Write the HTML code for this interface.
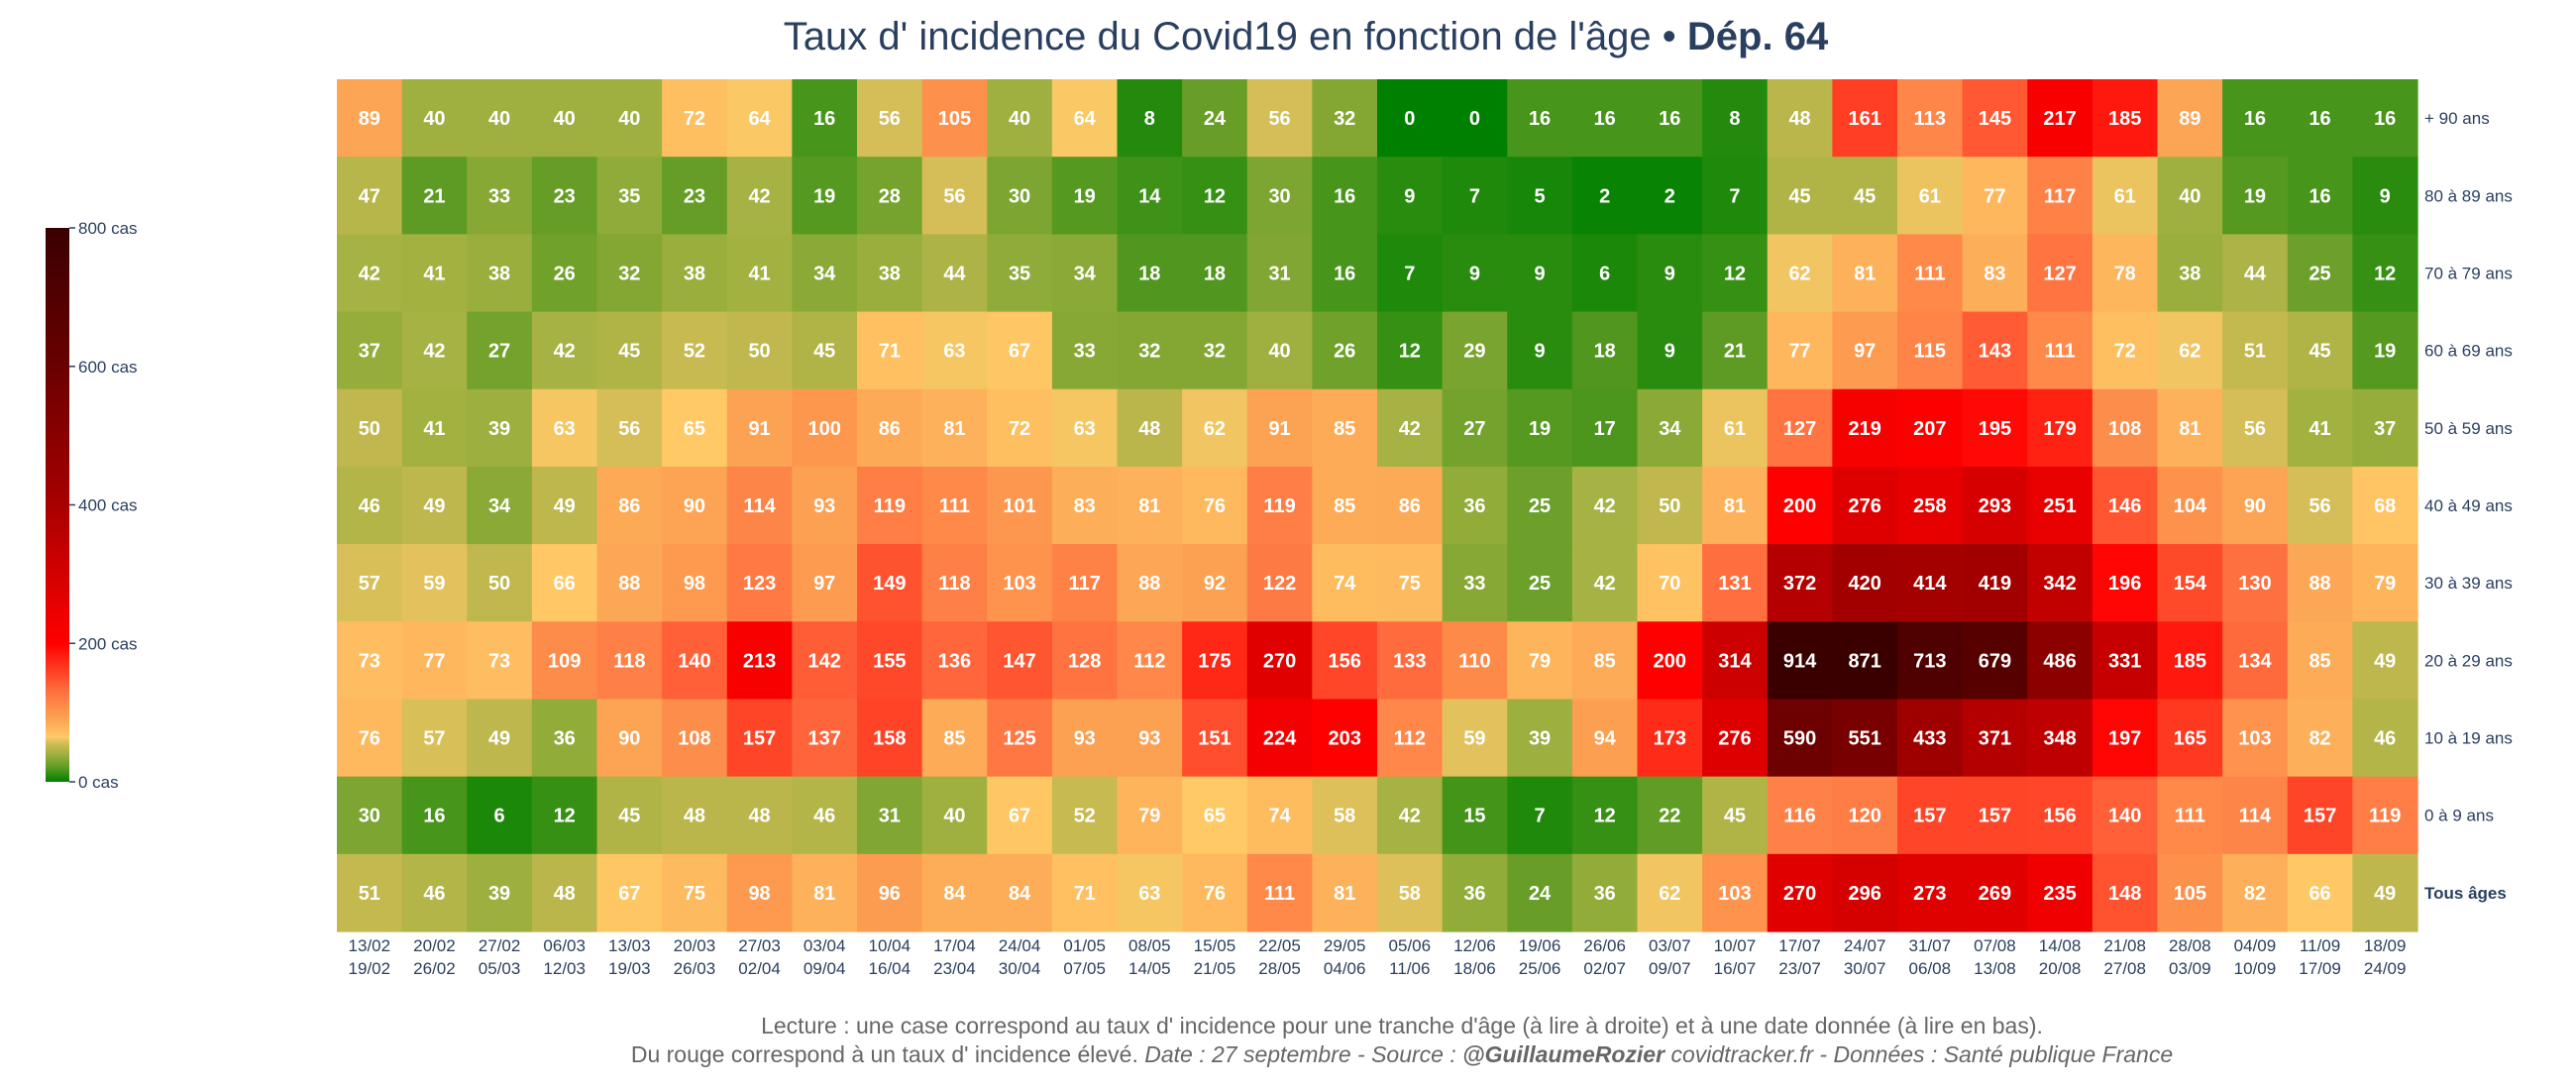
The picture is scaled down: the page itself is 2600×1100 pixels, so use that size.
<!DOCTYPE html>
<html><head><meta charset="utf-8"><style>
html,body{margin:0;padding:0;background:#fff;}
svg{display:block;font-family:"Liberation Sans","DejaVu Sans",sans-serif;}
</style></head><body>
<svg id="chart" width="2600" height="1100" viewBox="0 0 2600 1100" xmlns="http://www.w3.org/2000/svg">
<text x="1318" y="50" text-anchor="middle" font-size="40" fill="#2a3f5f">Taux d' incidence du Covid19 en fonction de l'âge • <tspan font-weight="bold">Dép. 64</tspan></text>
<g id="cells"></g>
<g id="rowlabels"></g>
<g id="collabels"></g>
<defs><linearGradient id="cbgrad" x1="0" y1="1" x2="0" y2="0"></linearGradient></defs>
<g id="colorbar"></g>
<text x="1415" y="1043" text-anchor="middle" font-size="23" fill="#666">Lecture : une case correspond au taux d' incidence pour une tranche d'âge (à lire à droite) et à une date donnée (à lire en bas).</text>
<text x="1415" y="1072" text-anchor="middle" font-size="23" fill="#666">Du rouge correspond à un taux d' incidence élevé.  <tspan font-style="italic">Date : 27 septembre - Source : <tspan font-weight="bold">@GuillaumeRozier</tspan> covidtracker.fr - Données : Santé publique France</tspan></text>
</svg>
<script>
const dateStarts = ["13/02","20/02","27/02","06/03","13/03","20/03","27/03","03/04","10/04","17/04","24/04","01/05","08/05","15/05","22/05","29/05","05/06","12/06","19/06","26/06","03/07","10/07","17/07","24/07","31/07","07/08","14/08","21/08","28/08","04/09","11/09","18/09"];
const dateEnds = ["19/02","26/02","05/03","12/03","19/03","26/03","02/04","09/04","16/04","23/04","30/04","07/05","14/05","21/05","28/05","04/06","11/06","18/06","25/06","02/07","09/07","16/07","23/07","30/07","06/08","13/08","20/08","27/08","03/09","10/09","17/09","24/09"];
const ageGroups = ["+ 90 ans","80 à 89 ans","70 à 79 ans","60 à 69 ans","50 à 59 ans","40 à 49 ans","30 à 39 ans","20 à 29 ans","10 à 19 ans","0 à 9 ans","Tous âges"];
const row90 = [89,40,40,40,40,72,64,16,56,105,40,64,8,24,56,32,0,0,16,16,16,8,48,161,113,145,217,185,89,16,16,16];
const row80 = [47,21,33,23,35,23,42,19,28,56,30,19,14,12,30,16,9,7,5,2,2,7,45,45,61,77,117,61,40,19,16,9];
const row70 = [42,41,38,26,32,38,41,34,38,44,35,34,18,18,31,16,7,9,9,6,9,12,62,81,111,83,127,78,38,44,25,12];
const row60 = [37,42,27,42,45,52,50,45,71,63,67,33,32,32,40,26,12,29,9,18,9,21,77,97,115,143,111,72,62,51,45,19];
const row50 = [50,41,39,63,56,65,91,100,86,81,72,63,48,62,91,85,42,27,19,17,34,61,127,219,207,195,179,108,81,56,41,37];
const row40 = [46,49,34,49,86,90,114,93,119,111,101,83,81,76,119,85,86,36,25,42,50,81,200,276,258,293,251,146,104,90,56,68];
const row30 = [57,59,50,66,88,98,123,97,149,118,103,117,88,92,122,74,75,33,25,42,70,131,372,420,414,419,342,196,154,130,88,79];
const row20 = [73,77,73,109,118,140,213,142,155,136,147,128,112,175,270,156,133,110,79,85,200,314,914,871,713,679,486,331,185,134,85,49];
const row10 = [76,57,49,36,90,108,157,137,158,85,125,93,93,151,224,203,112,59,39,94,173,276,590,551,433,371,348,197,165,103,82,46];
const row0 = [30,16,6,12,45,48,48,46,31,40,67,52,79,65,74,58,42,15,7,12,22,45,116,120,157,157,156,140,111,114,157,119];
const rowAll = [51,46,39,48,67,75,98,81,96,84,84,71,63,76,111,81,58,36,24,36,62,103,270,296,273,269,235,148,105,82,66,49];
const values = [row90,row80,row70,row60,row50,row40,row30,row20,row10,row0,rowAll];
const cbTicks = [0,200,400,600,800];

const NS = "http://www.w3.org/2000/svg";
const X0 = 340, X1 = 2440, Y0 = 80, Y1 = 940;
const cw = (X1 - X0) / dateStarts.length, rh = (Y1 - Y0) / ageGroups.length;
const xPos = i => X0 + i * cw;
const yPos = j => Y0 + j * rh;
const CB_X = 46, CB_W = 24, CB_Y0 = 789, CB_Y1 = 230, CB_MAX = 800;
const cbY = v => CB_Y0 + (CB_Y1 - CB_Y0) * v / CB_MAX;

const stops = [[0,[0,128,0]],[20,[90,154,34]],[40,[160,176,64]],[55,[208,188,85]],[65,[255,201,102]],[90,[252,164,83]],[130,[255,112,64]],[200,[255,0,0]],[400,[168,0,0]],[600,[106,0,0]],[800,[58,0,0]]];
function color(v){
  v = Math.min(Math.max(v,0),800);
  for(let k=1;k<stops.length;k++){
    if(v<=stops[k][0]){
      const [a,ca]=stops[k-1],[b,cb]=stops[k],t=(v-a)/(b-a);
      return "rgb("+ca.map((c,i)=>Math.round(c+(cb[i]-c)*t)).join(",")+")";
    }
  }
  return "rgb(58,0,0)";
}
function mk(tag, attrs, parent){
  const e=document.createElementNS(NS,tag);
  for(const k in attrs) e.setAttribute(k,attrs[k]);
  parent.appendChild(e); return e;
}
const gCells=document.getElementById("cells");
values.forEach((row,j)=>{
  row.forEach((v,i)=>{
    const r=mk("rect",{x:xPos(i),y:yPos(j),width:cw+0.6,height:rh+0.6,fill:color(v)},gCells);
    
    
    const t=mk("text",{x:xPos(i)+cw/2,y:yPos(j)+rh/2+7,"text-anchor":"middle","font-size":20,"font-weight":"bold",fill:"#fff"},gCells);
    
    
    t.textContent=v;
  });
});
const gRows=document.getElementById("rowlabels");
ageGroups.forEach((a,j)=>{
  const t=mk("text",{x:2447,y:yPos(j)+rh/2+6,"font-size":17,fill:"#2a3f5f"},gRows);
  if(j===ageGroups.length-1) t.setAttribute("font-weight","bold");
  
  
  t.textContent=a;
});
const gCols=document.getElementById("collabels");
dateStarts.forEach((d,i)=>{
  const t=mk("text",{x:xPos(i)+cw/2,y:960,"text-anchor":"middle","font-size":17,fill:"#2a3f5f"},gCols);
  
  
  t.textContent=d;
  const t2=mk("text",{x:xPos(i)+cw/2,y:983,"text-anchor":"middle","font-size":17,fill:"#2a3f5f"},gCols);
  
  
  t2.textContent=dateEnds[i];
});
const grad=document.getElementById("cbgrad");
stops.forEach(s=>{
  const c=color(s[0]);
  mk("stop",{offset:(s[0]/CB_MAX),"stop-color":c},grad);
});
const gCb=document.getElementById("colorbar");
const cbr=mk("rect",{x:CB_X,y:cbY(CB_MAX),width:CB_W,height:cbY(0)-cbY(CB_MAX),fill:"url(#cbgrad)"},gCb);


cbTicks.forEach(v=>{
  const l=mk("line",{x1:CB_X+CB_W,x2:CB_X+CB_W+6,y1:cbY(v),y2:cbY(v),stroke:"#2a3f5f","stroke-width":1.5},gCb);
  
  
  const t=mk("text",{x:CB_X+CB_W+9,y:cbY(v)+6,"font-size":17,fill:"#2a3f5f"},gCb);
  
  
  t.textContent=v+" cas";
});
</script>
</body></html>
